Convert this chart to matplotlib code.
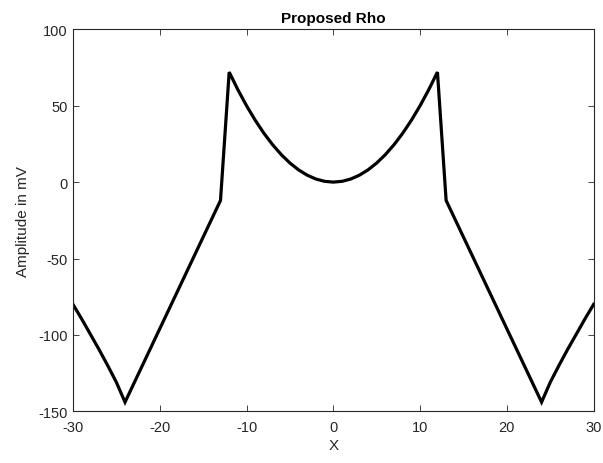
import matplotlib
matplotlib.use("Agg")
import matplotlib.pyplot as plt

# values (symmetric about x = 0)
x_vals = [-30, -29, -28, -27, -26, -25, -24,
          -13, -12, -11, -10, -9, -8, -7, -6, -5, -4, -3, -2, -1,
          0, 1, 2, 3, 4, 5, 6, 7, 8, 9, 10, 11, 12, 13,
          24, 25, 26, 27, 28, 29, 30]
rho = [-80, -89.5, -99.5, -109.5, -120, -131, -144,
       -12, 72, 60.5, 50, 40.5, 32, 24.5, 18, 12.5, 8, 4.5, 2, 0.5,
       0, 0.5, 2, 4.5, 8, 12.5, 18, 24.5, 32, 40.5, 50, 60.5, 72, -12,
       -144, -131, -120, -109.5, -99.5, -89.5, -80]

x_ticks = [-30, -20, -10, 0, 10, 20, 30]
y_ticks = [-150, -100, -50, 0, 50, 100]

plt.rcParams['font.family'] = ['Liberation Sans', 'DejaVu Sans']
plt.rcParams['axes.unicode_minus'] = False

fig = plt.figure(figsize=(6.03, 4.64), dpi=100)
ax = fig.add_axes([0.121, 0.1114, 0.8635, 0.8233])

ax.plot(x_vals, rho, color='black', linewidth=2.3, solid_joinstyle='miter')

ax.set_xlim(-30, 30)
ax.set_ylim(-150, 100)
ax.set_xticks(x_ticks)
ax.set_yticks(y_ticks)
ax.tick_params(direction='in', top=True, right=True, length=4, width=0.6,
               labelsize=10.5, labelcolor='#262626', color='#262626')
ax.tick_params(axis='x', pad=6)
ax.tick_params(axis='y', pad=4)
for s in ax.spines.values():
    s.set_linewidth(0.8)
    s.set_color('#262626')

ax.set_title('Proposed Rho', fontsize=11, fontweight='bold', pad=5)
ax.set_xlabel('X', fontsize=11, color='#262626', labelpad=3)
ax.set_ylabel('Amplitude in mV', fontsize=11, color='#262626', labelpad=6)

fig.savefig('out.png', dpi=100)
